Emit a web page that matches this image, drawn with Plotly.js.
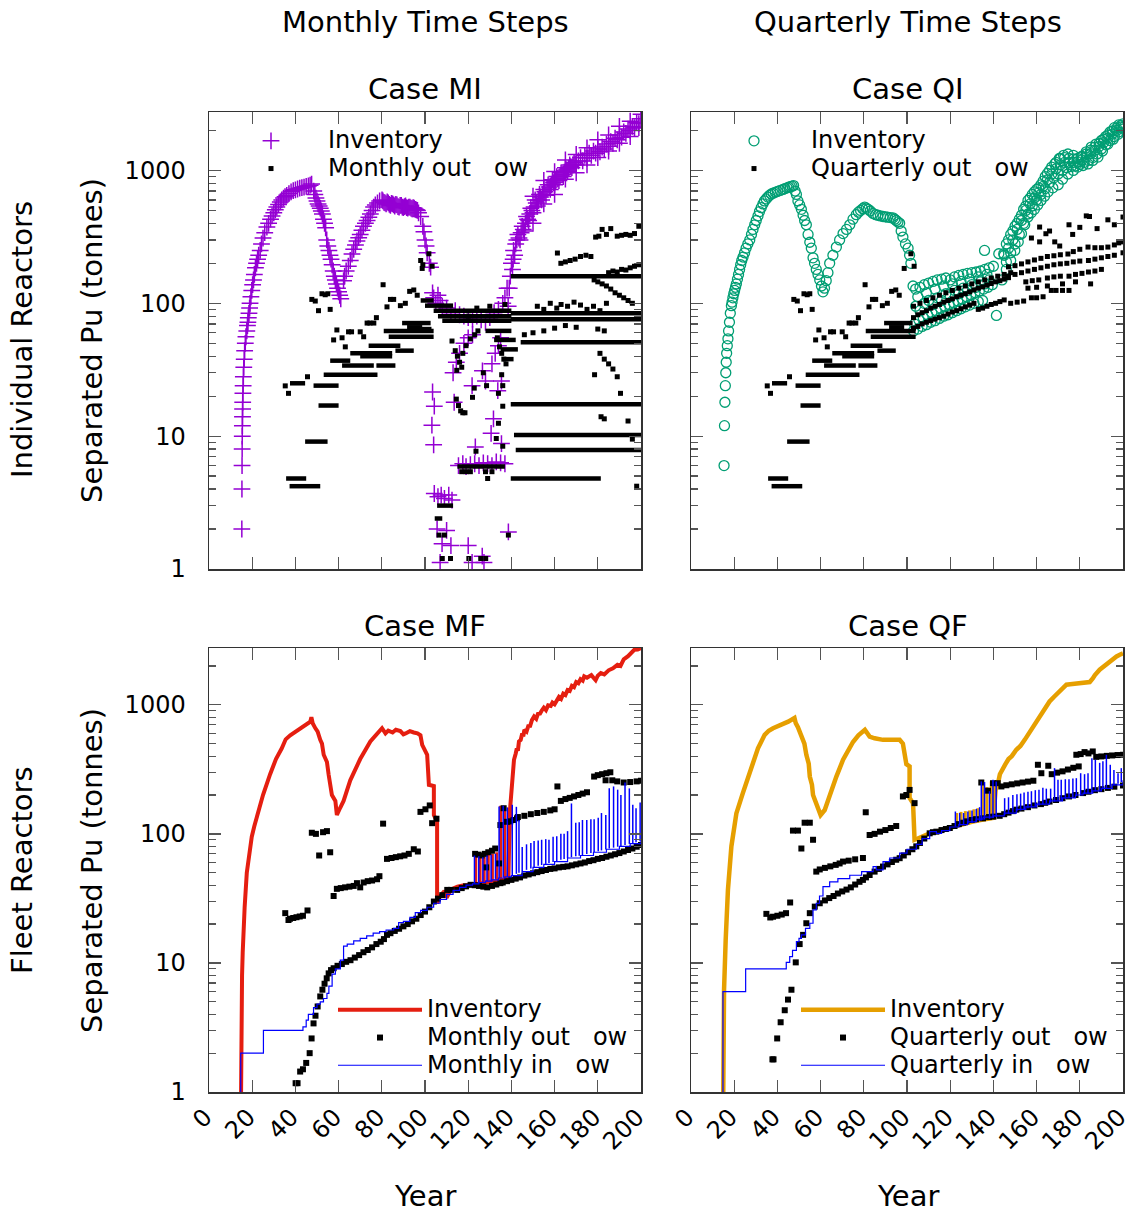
<!DOCTYPE html>
<html>
<head>
<meta charset="utf-8">
<script src="https://cdn.plot.ly/plotly-3.0.1.min.js"></script>
<style>html,body{margin:0;padding:0;background:#fff;}#chart{width:1127px;height:1214px;}</style>
</head>
<body>
<div id="chart"></div>
<script>
// ================= DATA (year, tonnes) =================
const xTickVals = [0,20,40,60,80,100,120,140,160,180,200];
const xTickText = ['0','20','40','60','80','100','120','140','160','180','200'];
const yTickVals = [1,10,100,1000];
const yTickText = ['1','10','100','1000'];

// ---- Individual reactors: early outflow shared by Case MI and Case QI ----
const indivOutEarly = [[35.3,23.9],[36.8,21],[45.6,28],[47.6,107],[49.2,104],[50.7,88],[52.3,118],[53.8,116],[55,118],[56.1,90],
 [57.7,53],[59.2,63],[61.6,55],[63.1,47],[64.6,61],[66,61],[70,61],[71.6,56],[73.2,71],[74.5,71],[76.3,71],[77.5,78],
 [80.6,138],[82.4,94],[84,107],[85.5,107],[88.6,96],[90.9,100],[92.9,123],[94.8,126],[96.4,115],[98.7,183],[101.8,236],[103.3,190]];
// runs of consecutive equal outflows: [first year, last year, tonnes]
const indivOutEarlyRuns = [[35.7,45,4.8],[37.3,51.5,4.2],[44.5,54.9,9.1],[37.5,44.5,25],[48.4,60,24],[50.7,60,17],[53.1,78,29],
 [56.1,65.4,37],[61.6,76.3,34],[77.5,86.3,34],[65.4,84.8,42],[70,84.8,40],[73.9,88.6,48],[86.3,94.8,44],[80.9,104,62],
 [83.2,104,56],[89.4,102.6,71],[91.7,98.7,66]];

// ---- Case MI ----
const miInventory = [
 [15.2,2],[15.25,4],[15.3,6],[15.35,8],[15.4,10],[15.45,12],[15.5,14],[15.55,16],[15.6,18],[15.7,21],[15.8,24],[15.9,28],
 [16.1,33],[16.3,38],[16.5,44],[16.8,50],[17.1,56],[17.5,62],[17.8,68],[18,72],[18.2,78],[18.5,84],[18.8,92],[19,100],
 [19.4,112],[19.8,125],[20.2,138],[20.6,150],[21,165],[21.5,185],[22,200],[22.5,215],[23,230],[23.7,250],[24.3,280],[25,310],
 [25.8,340],[26.8,375],[27.6,400],[28.5,430],[29.2,455],[30,480],[30.7,505],[31.4,530],[32.2,555],[33,580],[33.7,600],
 [34.5,620],[35.2,635],[36,650],[37,670],[38,690],[39,705],[40,715],[41,725],[42,735],[43,742],[44,750],[45,758],[46,765],
 [46.8,775],[47.5,790],
 [48.5,700],[49,660],[49.5,620],[50,590],[50.5,560],[51,540],[51.5,520],[52,495],[52.5,470],[53,430],[53.5,400],[54,370],
 [54.5,300],[55,270],[55.5,250],[56,230],[56.5,215],[57,195],[57.5,175],[58,160],[58.5,150],[59,140],[59.5,130],[60,122],
 [60.5,115],[61,108],
 [62.3,148],[62.8,160],[63.5,175],[64.5,190],[65.4,210],[66.2,235],[67,255],[67.8,275],[68.5,295],[69.3,312],[70,330],
 [70.8,355],[71.5,380],[72.4,400],[73.2,420],[74,445],[74.7,470],[75.5,500],[76.2,530],[77,550],[78,570],[79,590],[80.1,600],
 [80.5,590],[81,575],[81.5,570],[82,560],[82.5,580],[83,570],[83.5,555],[84,545],[84.5,565],[85,560],[85.5,550],[86,540],
 [86.5,555],[87,550],[87.5,535],[88,530],[88.5,545],[89,545],[89.5,530],[90,525],[90.5,535],[91,540],[91.5,525],[92,520],
 [92.5,530],[93,530],[93.5,520],[94,515],[94.5,525],[95,520],[95.5,510],[96,505],[96.5,500],[97,480],
 [98,450],[99,380],[99.5,345],[100,300],[100.5,270],[101,240],[102,200],[102.6,187],
 [103.5,120],[104,110],[105,100],[106,115],[107,105],[108,95],[110,92],[112,85],[114,88],[116,82],[118,80],[120,78],[122,76],
 [124,80],[126,75],[128,72],[130,78],[132,85],[134,90],[136,100],[137,110],[138,130],
 [113,30],[114.5,36],[116,42],[118,50],[120,55],[122,58],[131,35],[132.5,42],[134,48],[135,55],
 [103.5,21.5],[104.3,16.8],[103.2,12.1],[104,8.6],[126.6,31],[121.8,24],[113.5,18],[128,26],[133.7,22],[135.4,26],
 [131.7,13.5],[130.6,10.5],[135.4,8.8],[123.3,8.3],
 [115.5,6],[117.5,6.2],[119,5.9],[121,6.1],[123,6.2],[125,6],[127,6.3],[129,6.2],[131,6],[133,6.4],[135,6.3],[137,6.2],
 [104.3,3.7],[106,3.5],[107.5,3.6],[109,3.4],[111,3.6],[112.5,3.3],[105.6,2.0],[110,1.95],[107.9,1.55],[112,1.5],[120,1.5],
 [107,1.12],[121.8,1.12],[126.5,1.25],[127.3,1.12],[138.6,1.9],
 [138.5,95],[139,130],[139.5,160],[140,200],[140.5,180],[140.8,215],[141,250],[141.5,230],[142,280],[142.5,300],[143,330],
 [143.5,310],[144,300],[144.5,340],[145,380],[145.5,360],[146,350],[146.5,400],[147,450],[147.5,430],[148,420],[148.5,470],
 [149,520],[149.5,500],[150,480],[150.5,530],[151,600],[151.5,570],[152,540],[152.5,600],[153,660],[153.5,630],[154,600],
 [154.5,660],[155,720],[155.5,690],[156,650],[156.5,720],[157,780],[157.5,750],[158,720],[158.5,780],[159,850],[159.5,810],
 [160,780],[160.5,840],[161,900],[161.5,870],[162,840],[162.5,900],[163,960],[163.5,930],[164,900],[164.5,970],[165,1050],
 [165.5,1010],[166,980],[166.5,1040],[167,1100],[167.5,1070],[168,1050],[168.5,1100],[169,1150],[169.5,1120],[170,1100],
 [171,1180],[172,1250],[173,1180],[174,1300],[175,1240],[176,1350],[177,1300],[178,1400],[179,1350],
 [180,1450],[181,1380],[182,1500],[183,1450],[184,1580],[185,1520],[186,1650],[187,1600],[188,1750],[189,1700],
 [190,1850],[191,1780],[192,1950],[193,1900],[194,2050],[195,2000],[196,2150],[197,2100],[198,2300],[199,2250],[200,2450],
 [150,640],[155,840],[160,980],[165,1200],[170,1320],[175,1480],[180,1700],[185,1850],[190,2150],[195,2350],[200,2650],
 [150,400],[155,560],[160,660],[165,860],[170,960],[175,1100],[180,1250],[185,1400],[190,1600],[195,1800],[199,2100]];
const miOutLate = [
 [112.5,52],[114,44],[115,40],[116,36],[117,33],[114.7,31.3],[117.5,42],[119,48],[121,54],[123,58],[124.5,62],
 [133.5,55],[134.5,47],[135.5,42],[136.5,38],[137.5,35],[127,30],[122.8,23],[122,19.6],[114.5,19],[115.5,17],[116.5,15.5],
 [117.5,15],[118.5,15],[128.5,24],[134,21],[135.5,29],[136,24],[134,12.5],[133,9.6],[136,8.4],[123.6,7.7],[136,16.8],
 [117,5.4],[119,5.4],[121,5.4],[128,5.4],[131,5.4],[129,4.8],[106.5,1.8],[109,1.8],[108,1.2],[111.8,1.2],[120.3,1.2],
 [125.8,1.2],[128.1,1.2],[138.6,1.8],[98,210],[99,195],[120,80],[124,92],[130,95],[137,98],
 [161.3,239],[162.9,200],[165,205],[167.2,210],[169.5,215],[172,225],[174.5,230],[176.8,225],
 [179,315],[180.5,320],[182,360],[184,330],[186,365],[189,320],[191,325],[193,330],[195,325],[197,335],[199,380],
 [178.3,150],[180,145],[182,140],[184,135],[186,128],[188,120],[190,115],[192,110],[194,105],[196,100],
 [185,170],[187,175],[189,172],[191,180],[193,178],[195,185],[197,190],[199,195],
 [152,95],[155,90],[158,100],[161,92],[163,98],[166,95],[169,102],[172,97],[175,90],[178,95],[181,88],[184,100],
 [146,58],[150,60],[155,62],[160,65],[165,68],[170,66],[180,64],[183,62],
 [181,42],[183,38],[185,35],[187,32],[189,28],[178.5,29],[190.5,21],[181.5,14],[183,13.5],[194,13],[196,9.5],[198,4.2]];
const miOutLateRuns = [[98,104,105],[100,113,96],[104,140,88],[106,140,80],[108,140,74],[98,103,64],[128,140,62],
 [132,142,53],[135,143,45],[136,141,38],[115,137,5.9],[139.7,200,160],[139.7,200,84],[139.7,200,76],[144.3,200,51],
 [139.7,201,17.4],[141.2,200,10.2],[142,200,7.85],[139.7,181.4,4.8],[105.6,113,3.0],[104.5,108,2.4]];

// ---- Case QI ----
const qiInventory = [
 [15.3,6],[15.5,12],[15.7,18],[15.9,24],[16.1,30],[16.3,36],[16.5,42],[16.8,48],[17.1,54],[17.4,62],[17.8,72],[18.2,84],
 [18.7,96],[19,102],[19.4,110],[19.8,118],[20.2,125],[20.6,132],[21,140],[21.5,152],[22,165],[22.5,180],[23,195],[23.5,210],
 [24.1,223],[24.8,240],[25.5,260],[26.3,280],[27.2,300],[28,330],[28.7,360],[29.5,390],[30.2,420],[31,455],[31.7,490],
 [32.5,525],[33.3,560],[34,590],[34.8,610],[35.6,630],[36.4,650],[37.2,665],[38,675],[39,685],[40,695],[41.3,708],
 [42.6,720],[43.5,730],[44.5,740],[45.2,748],[46,755],[46.8,762],[47.5,770],
 [48.2,700],[48.8,660],[49.5,590],[50.3,550],[51.1,510],[51.9,460],[52.6,420],[53.4,390],[54.2,330],[55,288],[55.7,260],
 [56.5,220],[57.2,200],[58,180],[58.8,165],[59.6,150],[60.4,135],[61.1,122],[61.8,130],[62.6,148],[63.4,170],[64.2,200],
 [65.7,230],[67.3,265],[68.8,300],[70.4,335],[72,360],[73.5,390],[75,430],[76.5,465],[77.5,485],[78.5,500],[79.5,515],
 [80.4,530],[81.2,520],[82,510],[83,495],[84.3,475],[85.5,465],[86.5,460],[87.7,455],[88.9,450],[90,448],[91,445],
 [92.3,442],[93.5,440],[94.3,430],[95,420],[95.8,410],[96.6,400],[97.3,350],[98.1,315],[99.3,280],[100.5,260],
 [101.2,230],[101.8,200],
 [102.8,135],[104,128],[106,132],[108,138],[110,142],[112,146],[114,150],[116,152],[118,155],[120,150],[122,158],[124,162],
 [126,165],[128,168],[130,170],[132,172],[134,175],[136,180],[138,185],[140,190],
 [103,62],[105,64],[107,67],[109,69],[111,72],[113,74],[115,77],[117,80],[119,82],[121,85],[123,88],[125,91],[127,94],
 [129,97],[131,100],[133,103],[135,105],
 [104,95],[106,88],[108,100],[110,105],[112,98],[114,110],[116,105],[118,118],[120,112],[122,125],[124,118],[126,130],
 [128,125],[130,138],[132,132],[134,145],[136,140],[138,150],[141.4,81],[135.9,250],[142.5,236],[144.8,236],
 [105,112],[109,120],[113,128],[117,135],[121,140],[125,146],[129,152],[133,158],[137,165],
 [103.5,70],[105.5,75],[107.5,78],[109.5,82],[111.5,85],[113.5,88],[115.5,92],[117.5,95],[119.5,98],[121.5,101],
 [123.5,104],[125.5,108],[127.5,112],[129.5,116],[131.5,120],[133.5,124],[135.5,128],[137.5,132],[139.5,138],
 [144,150],[146,180],[148,210],[149.9,250],[151.5,290],[153,334],[154.5,390],[156,446],[157.5,480],[159,510],[160.5,550],
 [162,595],[163.7,640],[165.3,690],[167.5,740],[170,780],[172,860],[174.5,940],[177,1000],[179,1060],[181.5,1090],
 [183.8,1120],[186,1190],[188.4,1260],[190.5,1400],[193,1580],[195.5,1720],[197.7,1870],[200,2100],
 [145,230],[147,260],[149,300],[151,360],[153,420],[155,500],[157,560],[159,620],[161,680],[163,760],[165,850],[167,940],
 [169,1030],[171,1100],[173,1150],[175,1150],[177,1150],[179,1160],[181,1200],[183,1260],[185,1340],[187,1420],[189,1520],
 [191,1620],[193,1750],[195,1880],[197,2000],[199,2120],
 [146,205],[148,240],[150,280],[152,330],[154,400],[156,470],[158,540],[160,600],[162,660],[164,730],[166,810],[168,880],
 [170,940],[172,1000],[174,1050],[176,1070],[178,1080],[180,1110],[182,1150],[184,1190],[186,1250],[188,1330],[190,1450],
 [192,1560],[194,1680],[196,1800],[198,1950],[200,2050],
 [147,300],[149,350],[151,400],[153,460],[155,540],[157,620],[159,690],[161,740],[163,830],[165,950],[167,1060],[169,1150],
 [171,1230],[173,1250],[175,1230],[177,1220],[179,1230],[181,1280],[183,1330],[185,1420],[187,1500],[189,1600],[191,1720],
 [193,1850],[195,1980],[197,2080],[199,2180],
 [146,280],[148,330],[150,380],[152,430],[154,510],[156,595],[158,660],[160,720],[162,780],[164,900],[166,1000],
 [168.4,1120],[170.5,1230],[172.5,1300],[174.5,1330],[177,1300],[180.6,1260],[183,1380],[185.3,1500],[187.5,1580],
 [190,1680],[192,1800],[194,1950],[196,2100],[198,2200],[200,2245]];
const qiOutLate = [
 [103,65],[105,67],[107,70],[109,72],[111,74],[113,76],[115,78],[117,80],[119,83],[121,86],[123,88],[125,91],[127,94],
 [129,97],[131,100],[133,90],[135,92],[137,95],[139,98],[141,100],[143,103],[145,106],
 [103,78],[105,82],[107,85],[109,88],[111,92],[113,95],[115,98],[117,102],[119,105],[121,108],[123,112],[125,115],
 [127,118],[129,122],[131,126],[133,130],[135,133],[137,137],[139,141],[141,145],[143,148],[145,152],[147,156],
 [103,95],[106,100],[109,105],[112,110],[115,115],[118,120],[121,125],[124,130],[127,135],[130,140],[133,145],[136,150],
 [139,155],[142,160],[145,165],[148,170],
 [147,188],[150,192],[153,198],[156,205],[159,212],[162,218],[165,225],[168,228],[171,232],[174.5,235],[177,245],
 [180,255],[183.8,265],[187,262],[190,262],[193,265],[196,275],[198,285],[200,290],
 [147,160],[150,165],[153,170],[156,175],[159,180],[162,185],[165,190],[168,195],[171,198],[174,200],[177,205],
 [180,208],[184,210],[187,215],[190,220],[193,225],[196,230],[200,240],
 [148,100],[151,102],[154,104],[157.6,110],[160,110],[163,112],[166.8,125],[169,125],[172,125],[175,125],
 [155,145],[158,148],[161,150],[165,155],[168,158],[171,160],[175,160],[178,165],[181,168],[184,172],[187,175],[190,180],
 [156,130],[160,132],[165,135],[172,140],[178,145],[185,140],
 [157.6,310],[161.4,290],[161.4,375],[164.3,334],[166,350],[168.4,290],[170.7,270],[175,390],[176.7,330],[180,373],
 [183,455],[184.5,450],[188,365],[193,425],[196,390],[200,446]];

// ---- Case MF ----
const mfInventory = [
 [14.7,0.5],[14.8,2],[15,4],[15.3,8],[15.6,12],[16,18],[16.5,27],[17.5,50],[18.5,70],[19.8,95],[21,115],[22.9,150],[25,200],
 [28.3,290],[31,380],[33.7,460],[35.5,540],[37.6,580],[40,620],[43,660],[45,700],[46.9,740],[47.4,800],[48,720],[49.2,660],
 [50.3,620],[51.5,535],[52.3,500],[53.1,410],[54.6,360],[55.4,287],[56.9,200],[58.5,180],[59.2,140],[60.8,160],[62.3,180],
 [65.4,260],[70,380],[74.7,520],[78,600],[80.1,658],[81.7,600],[83,630],[85,610],[86.5,640],[88.6,625],[90,590],[91,600],
 [93,625],[94.8,610],[96.5,600],[97.9,580],[98.7,490],[101,410],[101.8,240],[104.1,235],[104.1,140],[105.6,124],[105.6,29],
 [107,33],[109,36],[110,32],[112,37],[115,39],[118,40],[121,40],[124,41],[127,42],[130,42.5],[133,43],[136,44],[138.5,45],
 [139.5,165],[140.5,250],[141.2,375],[142,420],[142.5,460],[143,440],[143.5,520],[144.3,535],[145,600],[145.5,570],
 [146,640],[147,620],[148,700],[148.5,670],[149.5,760],[150.5,811],[151.5,780],[152.5,870],[153,840],[154,900],[155,950],
 [156,910],[157,990],[158.2,980],[159,1040],[160,1010],[161,1100],[162,1150],[163,1110],[164,1220],[165,1190],[166,1300],
 [167,1280],[168,1400],[169,1370],[170,1500],[171,1470],[172,1580],[173,1540],[173.7,1660],[175,1620],[177,1700],
 [178,1620],[179,1550],[180,1680],[181.4,1760],[183,1720],[185,1850],[187,1920],[189.1,2040],[190.5,2000],[192,2250],
 [194,2380],[195.5,2500],[196.9,2670],[198.5,2680],[200,2750]];
const mfInvSpikeYear = [123.5,125.5,127.4,129.3,131.2,133.2,135,136.9,138.8];
const mfInvSpikeBase = [40,40.5,41,41.5,42,42.5,43,44,45];
const mfInvSpikePeak = [69,68,67,69,70,72,165,163,160];
const mfOutflow = [
 [40.1,1.17],[41,1.17],[42.2,1.44],[43.5,1.5],[45,1.68],[46.6,2.0],[47.5,2.6],[48.4,3.4],[49.3,3.9],[50.3,4.6],[51.5,5.5],
 [52.5,6.2],[53.5,6.9],[54.5,7.6],[55.4,8.3],[56.5,8.8],[57.7,9.1],[59.5,9.5],[61.5,9.8],[63.5,10.2],[65.5,10.5],[67.5,11],
 [69.5,11.5],[71.5,12.1],[73.5,12.6],[75.5,13.2],[77.5,14],[79.5,14.6],[81,15.3],[82.4,16.5],[84,17],[86,17.7],[88,18.4],
 [90,19.2],[92,20],[94,21],[96,22],[98,23.5],[100,25],[102,27],[104.1,29.9],[106,31.5],[108,33.5],[110.3,36.8],
 [112,36.8],[114.9,36.8],[117,38],[119,39.2],[121.1,40.3],[123,40],[125,39.5],[127,39],[128.8,38.5],[131,39.5],[133,40.5],
 [134.9,41.5],[136,42],[138,43],[140,44],[142,45],[144,46],[146,47.5],[148,48.5],[150,49.5],[152,50.5],[154,51.5],
 [156,52.5],[158,53.5],[160,54],[162,55],[164,55.5],[166,56],[168,57],[170,58],[172,59],[174,60],[176,61.5],[178,62.5],
 [180,64],[182,65],[184,66.5],[186,68],[188,69.5],[190,71],[192,73],[194,75],[196,77],[198,79.5],[200,82],
 [35.3,24.3],[36.8,21.5],[37.5,22],[39,22.3],[40.5,22.6],[42,22.9],[43.5,23.2],[45.6,25.5],[47.6,102],[49.5,100],[51,68],
 [52.8,103],[54.6,105],[56.1,72],[57.7,33],[59.2,37.5],[61,38],[63,38.5],[65,39],[67,39.5],[68.5,41.5],[70,38.5],
 [71.6,42],[73.5,43],[75.5,43.5],[77.8,44.5],[78.9,47],[80.6,120],[82.4,64],[84.5,65],[86.5,66],[88.5,67],[90.5,68],
 [92.5,70],[94.8,76],[96.7,73],[97.9,148],[100.2,155],[102.2,166],[103.3,121],[105.3,131],
 [123.2,70],[124.7,69],[126.2,68],[127.7,70],[129.3,72],[131,74],[132.5,77],[128.3,55],[134.3,59],[134.9,117],
 [136.4,158],[138,124],[139.5,125],[141,128],[142.6,132],[143,135],[146,138],[149,142],[152,145],[155,148],[158,152],
 [160,155],[161.3,233],[162.9,180],[165,186],[167,190],[169,195],[171,200],[173,205],[175,210],[178.3,278],[180,285],
 [182,290],[184,295],[185.8,300],[183.6,260],[186.7,260],[189,255],[192,250],[195,252],[198,255],[200,258]];
const mfInflow = [
 [14.7,0.5],[14.7,2],[25.2,2],[25.2,3],[42.6,3],[43.5,3.2],[45,3.6],[46,4.0],[48.4,4.5],[50,4.8],[51.5,5.0],[53,5.3],
 [54.6,5.8],[55.5,6.6],[57,8.2],[58.5,9.0],[60.8,10.5],[62.3,13.5],[64,14],[67,14.8],[70,15.5],[73,16.2],[76,17],
 [79,17.5],[82,18],[85.5,18.5],[87.8,20.5],[90,21],[93,22.5],[95.5,24.5],[98,25.5],[101,27],[104,29],[107,31],[110,34],
 [113,36.5],[116,38.5],[119,40],[122,41],[125,42],[128,43],[131,44],[134,45.5],[137,46.5],[140,47.5],[145,51],[150,55],
 [155,58],[160,61],[166,65],[172,68],[178,72],[184,76],[190,80],[195,84],[200,88]];
const mfInSpikeYear = [122.9,124.9,126.8,128.7,130.6,132.6,134.3,136.2,138.1,140.4,142.3,143.5,145,147,149,150.5,152.4,154,
 155.9,157.4,159.3,161,162.9,164.4,166,167.8,169.8,171.4,172.9,174.9,176.8,178.3,180.2,181.7,183.7,185.3,187.3,189.2,
 190.7,192.6,194.6,196.2,197.7,199.6];
const mfInSpikeBase = [41.3,42,42.6,43.2,43.8,44.8,45.6,46.2,46.9,47.8,49,50,51,52.6,54,55.3,56.5,57.4,58.5,59.5,60.5,61.7,
 63,64,65,66,67,67.8,68.6,69.9,71.2,72.2,73.4,74.4,75.8,77,78.2,79.5,80.6,82,83.6,84.8,86,87.7];
const mfInSpikePeak = [68,67,66,68,69,70,163,165,160,168,162,128,79,83,85,88,89,90,91,90,95,96,100,100,105,172,122,123,128,
 128,130,130,133,145,140,226,233,220,200,250,225,168,158,175];

// ---- Case QF ----
const qfInventory = [
 [14.8,0.5],[15.3,6.2],[16.05,15],[17.1,36.8],[18.7,80],[21,144],[24,207],[26,260],[28.7,375],[31,460],[34.1,585],[36,630],
 [38,658],[42,700],[45,740],[47.9,790],[48.5,720],[49.5,671],[51.1,585],[52.5,500],[53.4,410],[54.5,350],[55,278],
 [56,240],[56.5,200],[58,170],[60,140],[61.9,153],[64.2,200],[67.3,278],[70.4,375],[73,450],[75,515],[77.5,580],
 [79.6,621],[80.5,640],[82.7,567],[85,550],[88.9,535],[93,540],[96.6,535],[98.1,500],[99.7,347],[101.2,333],[101.2,190],
 [102.8,173],[103.5,90],[105,92],[108,98],[110.5,101],[113.6,104],[117,108],[120,112],[122,115],[126,119],[130,124],
 [134,128],[138,132],[140,133],[141,218],[142,240],[143,290],[144.4,314],[145.5,345],[147,380],[148.5,400],[150.6,448],
 [152.5,480],[154.5,535],[156.5,600],[158.3,679],[160,760],[162,850],[164,950],[166,1060],[168,1150],[170,1250],
 [172,1350],[173.8,1430],[175.5,1440],[177,1450],[179,1440],[181.5,1460],[183,1480],[184.6,1500],[186,1600],[187,1700],
 [189.2,1870],[191,1980],[193,2100],[195,2230],[197,2370],[198.5,2440],[200,2500]];
const qfInvSpikeYear = [123,125,127,129,131,132.8,135,137,139,140.5];
const qfInvSpikeBase = [116,118,120,122,124,126,128,130,132,134];
const qfInvSpikePeak = [145,148,150,152,155,158,250,230,255,250];
const qfOutflow = [
 [37.7,1.79],[38.2,1.79],[39.9,2.6],[41.5,3.47],[43.4,4.3],[44.9,5.2],[46.5,6.2],[48.5,10.1],[50.3,14],[51.9,16.5],
 [53.4,20.3],[55,24.3],[57.3,27.3],[59.6,29],[62,30.5],[64,31.8],[66,33],[68,34.5],[70,35.8],[72,37],[74,38.5],[76,40.5],
 [78,42.5],[79.6,44],[81,46],[82.7,48],[85,51],[87,53.5],[88.9,55.8],[91,58],[93,60.5],[95,63],[96.6,64.8],[98.5,68],
 [100.5,72],[102.5,76],[104.3,80],[106,85],[108,92],[110.5,101],[112,103],[113.6,104],[116,107],[118,109],[119.8,111],
 [122,115],[124,119],[126,122],[127.5,125],[130,128],[132,130],[135.2,132],[138,135],[140,136],[142.9,138],[145,142],
 [147,146],[149,150],[150.6,154],[153,157],[156,161],[159,166],[162,170],[164,174],[166,178],[169,183],[172,189],
 [175,195],[178,200],[181.5,207],[184,212],[187,218],[190,222],[193,227],[196,232],[200,237],
 [34.9,24],[36.7,22.5],[38,22.8],[40,23.2],[42,23.7],[44,24.3],[45.9,29.4],[47.2,106],[49.5,106],[51.1,77],[52.6,122],
 [55,122],[56.5,90],[58,51],[59.6,53],[62,54.5],[64.5,56],[67,57.5],[68.8,59],[70.4,61],[73,62],[76,63.5],[79.6,65],
 [80.9,147],[82.7,98],[85,100],[87.5,104],[90,107],[92.5,111],[95,115],[98.1,195],[99.7,200],[101.2,219],[103.5,173],
 [134.4,250],[137.5,216],[139.8,247],[142,247],[143.7,233],[146,238],[148.5,242],[151,246],[153.5,250],[156,254],
 [158.5,258],[160.6,343],[162.2,295],[165.4,337],[167,290],[169.5,298],[172,305],[174.5,315],[177,325],[179.5,333],
 [178.4,410],[180.4,415],[182.2,430],[184,420],[186,435],[187.6,395],[190,398],[192.5,402],[195,405],[197.5,408],[200,410]];
const qfInflow = [
 [14.8,0.5],[14.8,6],[25.3,6],[25.3,9],[42.6,9],[44.1,10.1],[45.7,11.2],[47,12.5],[48.8,14.6],[50,15.5],[51.1,16.5],
 [53,18.5],[55,20.3],[56.5,25.8],[58,29],[59.5,33],[61.1,39],[64.2,42.5],[68,45],[73.5,47.8],[79,51],[84.3,55.8],
 [85.8,52.6],[88.9,61],[92,65],[96.6,70.8],[100,76],[104.3,83],[107,92],[110.5,104],[113.6,101],[116,106],[119.8,113],
 [124,118],[128,124],[132,130],[135.2,135],[140,138],[145,145],[150.6,155],[155,162],[160,170],[166,180],[172,190],
 [178,200],[181.5,207],[186,215],[190,225],[195,240],[200,260]];
const qfInSpikeYear = [122.4,124.4,126.2,128.2,130.1,132.1,133.6,134.4,135.9,138.2,139.8,141.3,145.2,147,149,150.9,152.6,
 154.2,156,157.6,159.4,161.1,162.9,164.5,166.5,168.3,169.9,171.4,173.3,175,176.8,178.4,180.4,182.2,183.8,185.6,187.2,
 189.2,190.7,192.3,194.1,195.8,197.7,199.2];
const qfInSpikeBase = [114,116,118,120,122,124,126,127,129,131,133,135,140,143,147,150,152,155,158,160,163,166,169,172,175,
 178,181,184,187,190,193,196,200,203,206,210,214,218,222,227,232,238,245,252];
const qfInSpikePeak = [149,145,145,149,152,156,161,255,252,214,262,255,189,192,200,203,205,209,212,214,218,220,228,224,224,
 323,262,263,265,265,268,270,295,290,295,386,375,355,365,410,343,313,295,323];

// ================= BUILD =================
const FONT = 'DejaVu Sans';
const xs = a => a.map(p => p[0]);
const ys = a => a.map(p => p[1]);
function runsXY(runs){ const x=[],y=[]; runs.forEach(r=>{x.push(r[0],r[1],null); y.push(r[2],r[2],null);}); return {x,y}; }
function spikesXY(yr,base,peak){ const x=[],y=[]; yr.forEach((v,i)=>{x.push(v,v,null); y.push(base[i],peak[i],null);}); return {x,y}; }
const lg = t => '<span style="font-size:24px">' + t + '</span>';

const PURPLE='#9400D3', GREEN='#009E73', RED='#E51E10', ORANGE='#E69F00', BLUE='#0000FF';
const sq = {symbol:'square', size:5, color:'black', line:{width:0}};
const traces = [];

// MI
traces.push({type:'scatter', mode:'markers', x:xs(miInventory), y:ys(miInventory), xaxis:'x', yaxis:'y', name:lg('Inventory'),
  legend:'legend', marker:{symbol:'cross-thin-open', size:12, color:PURPLE, line:{color:PURPLE, width:1.5}}});
traces.push({type:'scatter', mode:'markers', x:xs(indivOutEarly).concat(xs(miOutLate)), y:ys(indivOutEarly).concat(ys(miOutLate)),
  xaxis:'x', yaxis:'y', name:lg('Monthly out\u00a0\u00a0\u00a0ow'), legend:'legend', marker:sq});
{ const r1=runsXY(indivOutEarlyRuns.concat(miOutLateRuns));
  traces.push({type:'scatter', mode:'lines', x:r1.x, y:r1.y, xaxis:'x', yaxis:'y', showlegend:false, line:{color:'black', width:4.5}, hoverinfo:'skip'}); }

// QI
traces.push({type:'scatter', mode:'markers', x:xs(qiInventory), y:ys(qiInventory), xaxis:'x2', yaxis:'y2', name:lg('Inventory'),
  legend:'legend2', marker:{symbol:'circle-open', size:10, color:GREEN, line:{color:GREEN, width:1.3}}});
traces.push({type:'scatter', mode:'markers', x:xs(indivOutEarly).concat(xs(qiOutLate)), y:ys(indivOutEarly).concat(ys(qiOutLate)),
  xaxis:'x2', yaxis:'y2', name:lg('Quarterly out\u00a0\u00a0\u00a0ow'), legend:'legend2', marker:sq});
{ const r2=runsXY(indivOutEarlyRuns);
  traces.push({type:'scatter', mode:'lines', x:r2.x, y:r2.y, xaxis:'x2', yaxis:'y2', showlegend:false, line:{color:'black', width:4.5}, hoverinfo:'skip'}); }

// MF
traces.push({type:'scatter', mode:'lines', x:xs(mfInventory), y:ys(mfInventory), xaxis:'x3', yaxis:'y3', name:lg('Inventory'),
  legend:'legend3', line:{color:RED, width:4}});
{ const s=spikesXY(mfInvSpikeYear,mfInvSpikeBase,mfInvSpikePeak);
  traces.push({type:'scatter', mode:'lines', x:s.x, y:s.y, xaxis:'x3', yaxis:'y3', showlegend:false, line:{color:RED, width:3}, hoverinfo:'skip'}); }
traces.push({type:'scatter', mode:'markers', x:xs(mfOutflow), y:ys(mfOutflow), xaxis:'x3', yaxis:'y3', name:lg('Monthly out\u00a0\u00a0\u00a0ow'),
  legend:'legend3', marker:{symbol:'square', size:6, color:'black', line:{width:0}}});
traces.push({type:'scatter', mode:'lines', x:xs(mfInflow), y:ys(mfInflow), xaxis:'x3', yaxis:'y3', name:lg('Monthly in\u00a0\u00a0\u00a0ow'),
  legend:'legend3', line:{color:BLUE, width:1.2, shape:'hv'}});
{ const s=spikesXY(mfInSpikeYear,mfInSpikeBase,mfInSpikePeak);
  traces.push({type:'scatter', mode:'lines', x:s.x, y:s.y, xaxis:'x3', yaxis:'y3', showlegend:false, line:{color:BLUE, width:1.5}, hoverinfo:'skip'}); }

// QF
traces.push({type:'scatter', mode:'lines', x:xs(qfInventory), y:ys(qfInventory), xaxis:'x4', yaxis:'y4', name:lg('Inventory'),
  legend:'legend4', line:{color:ORANGE, width:4.5}});
{ const s=spikesXY(qfInvSpikeYear,qfInvSpikeBase,qfInvSpikePeak);
  traces.push({type:'scatter', mode:'lines', x:s.x, y:s.y, xaxis:'x4', yaxis:'y4', showlegend:false, line:{color:ORANGE, width:3}, hoverinfo:'skip'}); }
traces.push({type:'scatter', mode:'markers', x:xs(qfOutflow), y:ys(qfOutflow), xaxis:'x4', yaxis:'y4', name:lg('Quarterly out\u00a0\u00a0\u00a0ow'),
  legend:'legend4', marker:{symbol:'square', size:6, color:'black', line:{width:0}}});
traces.push({type:'scatter', mode:'lines', x:xs(qfInflow), y:ys(qfInflow), xaxis:'x4', yaxis:'y4', name:lg('Quarterly in\u00a0\u00a0\u00a0ow'),
  legend:'legend4', line:{color:BLUE, width:1.2, shape:'hv'}});
{ const s=spikesXY(qfInSpikeYear,qfInSpikeBase,qfInSpikePeak);
  traces.push({type:'scatter', mode:'lines', x:s.x, y:s.y, xaxis:'x4', yaxis:'y4', showlegend:false, line:{color:BLUE, width:1.5}, hoverinfo:'skip'}); }

const W=1127, H=1214;
const px = v => v/W, py = v => 1 - v/H;
const LEFT=[px(209), px(641)], RIGHT=[px(691), px(1123)];
const TOP=[py(569), py(112)], BOT=[py(1092), py(648)];
function xAxis(domain, anchor, labels){
  return {domain, anchor, range:[0,200], tickmode:'array', tickvals:xTickVals, ticktext:xTickText, showticklabels:labels,
    ticks:'inside', ticklen:12, tickwidth:1.3, tickcolor:'#555', showline:true, linecolor:'#333', linewidth:1.5,
    mirror:'ticks', showgrid:false, zeroline:false, tickangle:-45, ticklabeloverflow:'allow', ticklabelshift:-4,
    tickfont:{family:FONT, size:24, color:'black'}};
}
function yAxis(domain, anchor, labels){
  return {domain, anchor, type:'log', range:[0,3.44], tickmode:'array', tickvals:yTickVals, ticktext:yTickText,
    showticklabels:labels, ticks:'inside', ticklen:12, tickwidth:1.3, tickcolor:'#555', showline:true, linecolor:'#333',
    linewidth:1.5, mirror:'ticks', showgrid:false, zeroline:false, ticklabelstandoff:17, ticklabeloverflow:'allow',
    tickfont:{family:FONT, size:24, color:'black'},
    minor:{ticks:'inside', ticklen:7, tickwidth:1.3, tickcolor:'#555', dtick:'D1', showgrid:false}};
}
const legBase = {bgcolor:'rgba(0,0,0,0)', borderwidth:0, font:{family:FONT, size:19, color:'black'}, xanchor:'left', yanchor:'top', tracegroupgap:0};
const ann = (text, x, y, size, angle) => ({text, x:px(x), y:py(y), xref:'paper', yref:'paper', showarrow:false,
  xanchor:'center', yanchor:'middle', textangle:angle||0, font:{family:FONT, size:size, color:'black'}});

const layout = {
  width:W, height:H, margin:{l:0,r:0,t:0,b:0}, paper_bgcolor:'white', plot_bgcolor:'white', showlegend:true,
  xaxis:xAxis(LEFT,'y',false), yaxis:yAxis(TOP,'x',true),
  xaxis2:xAxis(RIGHT,'y2',false), yaxis2:yAxis(TOP,'x2',false),
  xaxis3:xAxis(LEFT,'y3',true), yaxis3:yAxis(BOT,'x3',true),
  xaxis4:xAxis(RIGHT,'y4',true), yaxis4:yAxis(BOT,'x4',false),
  legend:Object.assign({}, legBase, {x:px(214), y:py(122), itemwidth:104}),
  legend2:Object.assign({}, legBase, {x:px(697), y:py(122), itemwidth:104}),
  legend3:Object.assign({}, legBase, {x:px(333), y:py(991), itemwidth:84}),
  legend4:Object.assign({}, legBase, {x:px(796), y:py(991), itemwidth:84}),
  annotations:[
    ann('Monthly Time Steps', 425, 22, 29), ann('Quarterly Time Steps', 908, 22, 29),
    ann('Case MI', 425, 89, 29), ann('Case QI', 908, 89, 29),
    ann('Case MF', 425, 626, 29), ann('Case QF', 908, 626, 29),
    ann('Year', 425, 1196, 29), ann('Year', 908, 1196, 29),
    ann('Individual Reactors', 22, 340, 29, -90), ann('Separated Pu (tonnes)', 92, 340, 29, -90),
    ann('Fleet Reactors', 22, 870, 29, -90), ann('Separated Pu (tonnes)', 92, 870, 29, -90)
  ]
};
Plotly.newPlot('chart', traces, layout, {staticPlot:true, displayModeBar:false});
</script>
</body>
</html>
